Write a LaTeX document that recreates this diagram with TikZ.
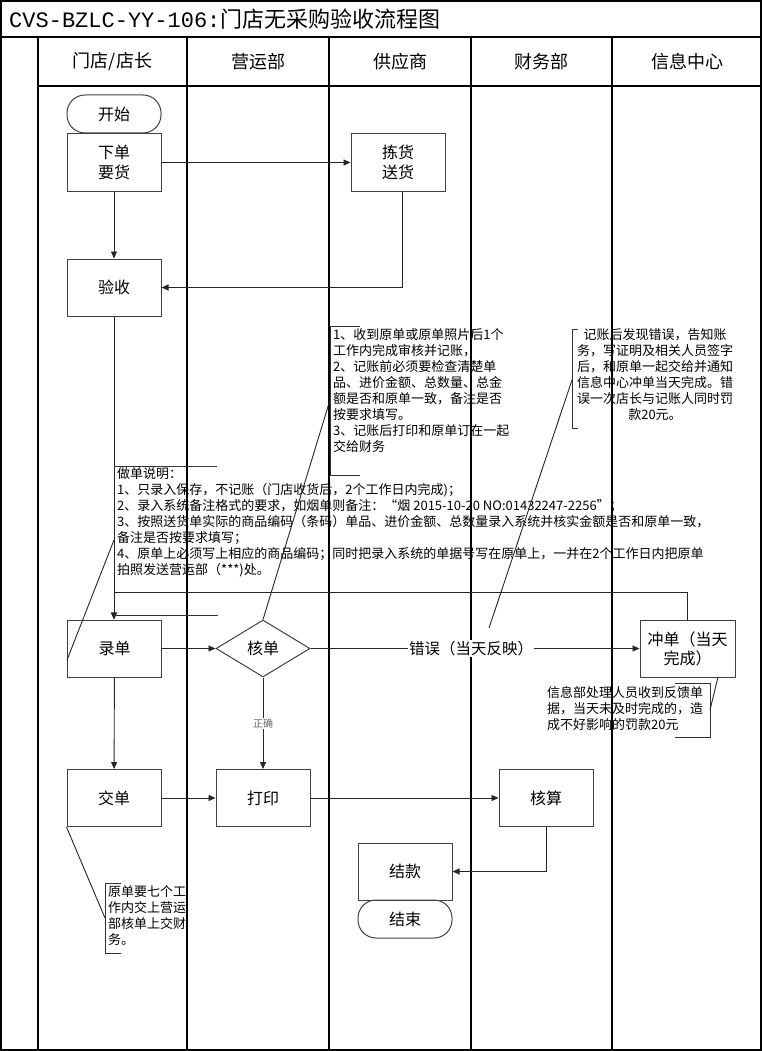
\documentclass[tikz,border=0pt]{standalone}
\usepackage{fontspec}
\setmainfont{Noto Sans CJK SC}
\newfontfamily\titlemono{Liberation Mono}
\usetikzlibrary{arrows.meta,shapes.geometric,calc}
\begin{document}
\begin{tikzpicture}[x=1pt,y=-1pt,
  lane/.style={line width=1.1pt,black},
  box/.style={draw=black!75,line width=1pt,minimum width=94pt,minimum height=57pt,inner sep=0pt,align=center,font=\fontsize{16}{20}\selectfont},
  term/.style={draw=black!75,line width=1pt,minimum width=94pt,minimum height=38pt,rounded corners=18pt,inner sep=0pt,font=\fontsize{16}{20}\selectfont},
  dia/.style={draw=black!75,line width=1pt,diamond,minimum width=94pt,minimum height=57pt,inner sep=0pt,font=\fontsize{16}{20}\selectfont},
  arr/.style={-{Triangle[length=7pt,width=6pt]},line width=0.9pt,black!85},
  conn/.style={line width=0.9pt,black!85},
  note/.style={inner sep=0pt,align=left,font=\fontsize{13}{16}\selectfont},
  brk/.style={line width=1pt,black!80},
  head/.style={font=\fontsize{18}{22}\selectfont},
]
\useasboundingbox (0,0) rectangle (762,1051);
% frame
\draw[line width=2pt] (1,1) rectangle (761,1050);
\draw[lane] (0,37) -- (762,37);
\draw[lane] (38,86) -- (762,86);
\foreach \x in {38,187,329,471,612} \draw[lane] (\x,37) -- (\x,1050);
\node[anchor=west,inner sep=0pt,font=\fontsize{22}{25}\selectfont] (title) at (9,19) {{\titlemono CVS-BZLC-YY-106:}门店无采购验收流程图};
\node[head] (h1) at (112.5,62) {门店/店长};
\node[head] (h2) at (258,62) {营运部};
\node[head] (h3) at (400,62) {供应商};
\node[head] (h4) at (541.5,62) {财务部};
\node[head] (h5) at (687,62) {信息中心};
% nodes
\node[term] (start) at (114,114) {开始};
\node[box] (order) at (114,162.5) {下单\\要货};
\node[box] (pick) at (398,162.5) {拣货\\送货};
\node[box] (check) at (114,287.5) {验收};
\node[box] (entry) at (114.5,648.5) {录单};
\node[dia] (audit) at (263,648.5) {核单};
\node[box,minimum width=95pt,font=\fontsize{16}{19}\selectfont] (reverse) at (687.5,648.5) {冲单（当天\\完成）};
\node[box] (submit) at (114,798) {交单};
\node[box] (print) at (263,798) {打印};
\node[box] (acct) at (546,798) {核算};
\node[box] (pay) at (405,871.5) {结款};
\node[term] (end) at (405,919) {结束};
% connectors
\draw[arr] (order) -- (pick);
\draw[arr] (order) -- (check);
\draw[arr] ([xshift=4pt]pick.south) |- (check.east);
\draw[arr] (check.south) -- (check.south |- entry.north);
\coordinate (loopL) at (114,592);
\draw[arr] (reverse.north) |- (loopL) -- (loopL |- entry.north);
\draw[arr] (entry) -- (audit);
\node[fill=white,inner sep=1pt,font=\fontsize{15.5}{18}\selectfont] (err) at (471,648.5) {错误（当天反映）};
\draw[conn] (audit) -- (err);
\draw[arr] (err) -- (reverse);
\draw[arr] (audit) -- node[fill=white,inner sep=1pt,text=black!60,font=\fontsize{10}{12}\selectfont] (ok) {正确} (print);
\draw[arr] (entry) -- (submit);
\draw[arr] (submit) -- (print);
\draw[arr] (print) -- (acct);
\draw[arr] (acct.south) |- (pay.east);
% note A
\node[note,anchor=north west] (noteA) at (117,467) {做单说明：\\
1、只录入保存，不记账（门店收货后，2个工作日内完成)；\\
2、录入系统备注格式的要求，如烟单则备注：“烟 2015-10-20 NO:01432247-2256”；\\
3、按照送货单实际的商品编码（条码）单品、进价金额、总数量录入系统并核实金额是否和原单一致，\\
备注是否按要求填写；\\
4、原单上必须写上相应的商品编码；同时把录入系统的单据号写在原单上，一并在2个工作日内把原单\\
拍照发送营运部（***)处。};
\draw[brk] (217,466) -- (114,466);
\draw[brk] (114,615) -- (218,615);
\coordinate (aA) at (67,660);
\coordinate (bA) at (114,540);
\draw[conn] (aA) -- (bA);
% note B
\node[note,anchor=north west] (noteB) at (333,328) {1、收到原单或原单照片后1个\\
工作内完成审核并记账，\\
2、记账前必须要检查清楚单\\
品、进价金额、总数量、总金\\
额是否和原单一致，备注是否\\
按要求填写。\\
3、记账后打印和原单订在一起\\
交给财务};
\draw[brk] (360,326) -- (330,326) -- (330,475) -- (360,475);
\coordinate (bB) at (330,400);
\draw[conn] (audit.north) -- (bB);
% note C
\node[note,align=center,anchor=north] (noteC) at (655,328) {记账后发现错误，告知账\\
务，写证明及相关人员签字\\
后，和原单一起交给并通知\\
信息中心冲单当天完成。错\\
误一次店长与记账人同时罚\\
款20元。};
\draw[brk] (578,329) -- (572,329) -- (572,428) -- (578,428);
\coordinate (aC) at (489,628);
\coordinate (bC) at (572,380);
\draw[conn] (aC) -- (bC);
% note D
\node[note,anchor=north west] (noteD) at (547,686) {信息部处理人员收到反馈单\\
据，当天未及时完成的，造\\
成不好影响的罚款20元};
\draw[brk] (675,683) -- (710,683) -- (710,737) -- (675,737);
\coordinate (aD) at (718,677);
\coordinate (bD) at (710,710);
\draw[conn] (aD) -- (bD);
% note E
\node[note,anchor=north west] (noteE) at (108,885) {原单要七个工\\
作内交上营运\\
部核单上交财\\
务。};
\draw[brk] (121,883) -- (105,883) -- (105,953) -- (121,953);
\coordinate (bE) at (105,918);
\draw[conn] (submit.south west) -- (bE);
\end{tikzpicture}
\end{document}
